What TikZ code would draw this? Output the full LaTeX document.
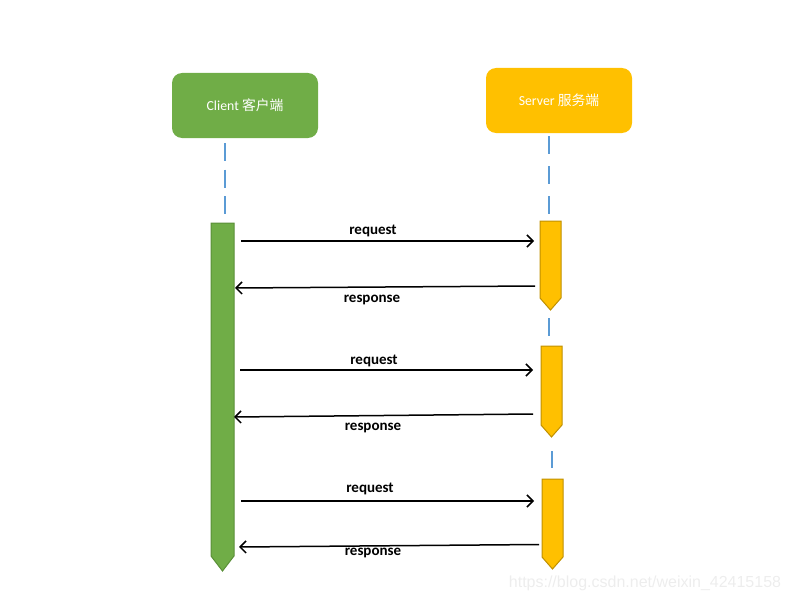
\documentclass[tikz,border=0pt]{standalone}
\usepackage{fontspec}
\setmainfont{Carlito}
\newfontfamily\cjk{Noto Sans CJK SC}
\newfontfamily\wmfont{Liberation Sans}
\usetikzlibrary{arrows.meta}
\definecolor{cgreen}{HTML}{70AD47}
\definecolor{cgreenD}{HTML}{5A8F38}
\definecolor{cyel}{HTML}{FFC000}
\definecolor{cyelD}{HTML}{C09000}
\definecolor{lblue}{HTML}{5B9BD5}
\tikzset{
  actor/.style={rounded corners=10pt, minimum width=146pt, text=white, font=\fontsize{13.8}{16}\selectfont, inner sep=0pt},
  life/.style={draw=lblue, line width=1.1pt},
  msg/.style={line width=1.5pt, -{Straight Barb[length=6pt,width=12pt,line width=1.5pt]}},
  lbl/.style={font=\fontsize{15}{17}\selectfont\bfseries, inner sep=0pt},
}
\begin{document}
\begin{tikzpicture}[x=1pt,y=-1pt]
\useasboundingbox (0,0) rectangle (790,602);
% actors
\node[actor, fill=cgreen, minimum height=65pt] (client) at (245,105.5) {Client {\cjk 客户端}};
\node[actor, fill=cyel, minimum height=65pt] (server) at (559,100.5) {Server {\cjk 服务端}};
% lifelines
\draw[life, dash pattern=on 18pt off 8.5pt] (225,143) -- (225,214);
\draw[life, dash pattern=on 18pt off 12pt] (549,136) -- (549,214);
\draw[life] (549,318) -- (549,336);
\draw[life] (552,451) -- (552,468);
% activation bars
\draw[fill=cgreen, draw=cgreenD, line width=1pt] (211,223) -- (234,223) -- (234,556) -- (222.5,571) -- (211,556) -- cycle;
\draw[fill=cyel, draw=cyelD, line width=1pt] (540,221) -- (561,221) -- (561,298) -- (550.5,310) -- (540,298) -- cycle;
\draw[fill=cyel, draw=cyelD, line width=1pt] (541,346) -- (562,346) -- (562,425) -- (551.5,437) -- (541,425) -- cycle;
\draw[fill=cyel, draw=cyelD, line width=1pt] (542,479) -- (563,479) -- (563,557) -- (552.5,569) -- (542,557) -- cycle;
% message end points
\coordinate (q1s) at (241,241); \coordinate (q1e) at (534,241);
\coordinate (r1s) at (535,286); \coordinate (r1e) at (235,288);
\coordinate (q2s) at (240,370); \coordinate (q2e) at (533,370);
\coordinate (r2s) at (533,414); \coordinate (r2e) at (234,417);
\coordinate (q3s) at (241,501); \coordinate (q3e) at (534,501);
\coordinate (r3s) at (539,544.5); \coordinate (r3e) at (239,547);
\draw[msg] (q1s) -- (q1e);
\draw[msg] (r1s) -- (r1e);
\draw[msg] (q2s) -- (q2e);
\draw[msg] (r2s) -- (r2e);
\draw[msg] (q3s) -- (q3e);
\draw[msg] (r3s) -- (r3e);
% labels
\node[lbl] (l1) at (373,231) {request};
\node[lbl] (l2) at (372,300) {response};
\node[lbl] (l3) at (374,361) {request};
\node[lbl] (l4) at (373,428) {response};
\node[lbl] (l5) at (370,489) {request};
\node[lbl] (l6) at (373,553) {response};
% watermark
\node[text=black!7, font=\wmfont\fontsize{16}{18}\selectfont, inner sep=0pt] (wm) at (645,583) {https://blog.csdn.net/weixin\_42415158};
\end{tikzpicture}
\end{document}
